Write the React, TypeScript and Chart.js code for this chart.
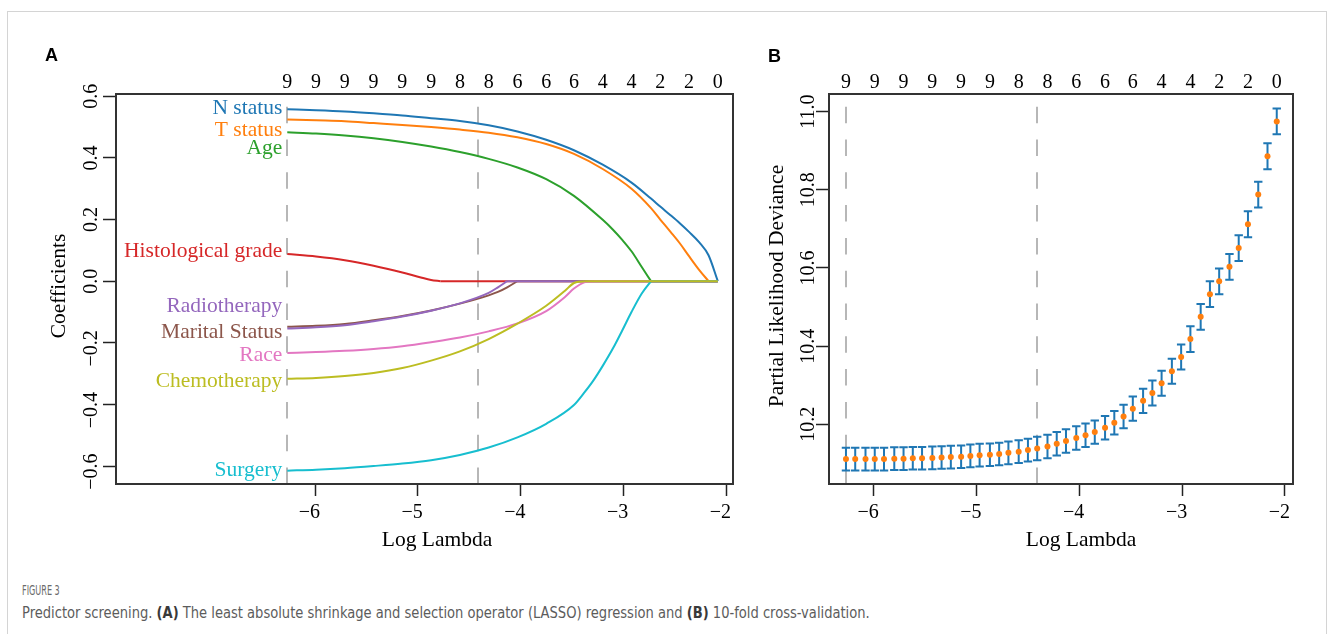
import React, { useEffect, useLayoutEffect, useRef } from 'react';
import { Chart, registerables } from 'chart.js';

Chart.register(...registerables);

const SERIF = '"Liberation Serif", "Times New Roman", serif';

// ---------------- data ----------------
const logLambda = [-6.27, -6.18, -6.08, -5.99, -5.9, -5.8, -5.71, -5.62, -5.53, -5.43, -5.34, -5.25, -5.15, -5.06, -4.97, -4.87, -4.78, -4.69, -4.59, -4.5, -4.41, -4.31, -4.22, -4.13, -4.03, -3.94, -3.85, -3.75, -3.66, -3.57, -3.48, -3.38, -3.29, -3.2, -3.1, -3.01, -2.92, -2.82, -2.73, -2.64, -2.54, -2.45, -2.36, -2.26, -2.17, -2.08];
const lambdaMinLog = -6.27;
const lambda1seLog = -4.41;

const countLambda = [-6.27, -5.99, -5.71, -5.43, -5.15, -4.87, -4.59, -4.31, -4.03, -3.75, -3.48, -3.2, -2.92, -2.64, -2.36, -2.08];
const nonzeroCount = [9, 9, 9, 9, 9, 9, 8, 8, 6, 6, 6, 4, 4, 2, 2, 0];

const xTickValues = [-6, -5, -4, -3, -2];
const coefTickValues = [-0.6, -0.4, -0.2, 0, 0.2, 0.4, 0.6];
const devTickValues = [10.2, 10.4, 10.6, 10.8, 11.0];

// Panel A coefficient paths
const nStatusX = [-6.27, -5.99, -5.71, -5.43, -5.15, -4.87, -4.59, -4.31, -4.03, -3.75, -3.48, -3.2, -2.92, -2.73, -2.64, -2.54, -2.45, -2.36, -2.26, -2.17, -2.08];
const nStatusY = [0.558, 0.555, 0.551, 0.545, 0.538, 0.529, 0.52, 0.506, 0.486, 0.459, 0.425, 0.378, 0.32, 0.268, 0.242, 0.214, 0.188, 0.16, 0.126, 0.084, 0];

const tStatusX = [-6.27, -5.99, -5.71, -5.43, -5.15, -4.87, -4.59, -4.31, -4.03, -3.75, -3.48, -3.2, -2.92, -2.73, -2.64, -2.54, -2.45, -2.36, -2.26, -2.17, -2.08];
const tStatusY = [0.525, 0.522, 0.519, 0.513, 0.507, 0.5, 0.492, 0.482, 0.467, 0.445, 0.413, 0.364, 0.3, 0.237, 0.2, 0.16, 0.123, 0.081, 0.036, 0, 0];

const ageX = [-6.27, -5.99, -5.71, -5.43, -5.15, -4.87, -4.59, -4.31, -4.03, -3.75, -3.48, -3.2, -3.1, -3.01, -2.92, -2.82, -2.73, -2.08];
const ageY = [0.483, 0.479, 0.473, 0.464, 0.452, 0.437, 0.419, 0.397, 0.369, 0.331, 0.277, 0.199, 0.167, 0.134, 0.097, 0.046, 0, 0];

const histX = [-6.27, -5.99, -5.71, -5.43, -5.15, -4.97, -4.87, -4.78, -2.08];
const histY = [0.088, 0.08, 0.068, 0.05, 0.028, 0.012, 0.004, 0, 0];

const radioX = [-6.27, -5.99, -5.71, -5.43, -5.15, -4.87, -4.59, -4.31, -4.22, -4.13, -2.08];
const radioY = [-0.154, -0.15, -0.143, -0.13, -0.115, -0.096, -0.072, -0.038, -0.02, 0, 0];

const maritalX = [-6.27, -5.99, -5.71, -5.43, -5.15, -4.87, -4.59, -4.31, -4.22, -4.13, -4.03, -2.08];
const maritalY = [-0.148, -0.145, -0.139, -0.127, -0.113, -0.095, -0.073, -0.046, -0.035, -0.02, 0, 0];

const raceX = [-6.27, -5.99, -5.71, -5.43, -5.15, -4.87, -4.59, -4.31, -4.03, -3.75, -3.57, -3.48, -3.38, -3.29, -2.08];
const raceY = [-0.233, -0.23, -0.226, -0.22, -0.211, -0.198, -0.183, -0.163, -0.137, -0.097, -0.052, -0.024, -0.004, 0, 0];

const chemoX = [-6.27, -5.99, -5.71, -5.43, -5.15, -4.87, -4.59, -4.31, -4.03, -3.75, -3.57, -3.48, -3.38, -2.08];
const chemoY = [-0.317, -0.314, -0.308, -0.298, -0.282, -0.258, -0.228, -0.188, -0.138, -0.08, -0.032, -0.006, 0, 0];

const surgeryX = [-6.27, -5.99, -5.71, -5.43, -5.15, -4.87, -4.59, -4.31, -4.03, -3.75, -3.48, -3.38, -3.29, -3.2, -3.1, -3.01, -2.92, -2.82, -2.73, -2.08];
const surgeryY = [-0.615, -0.612, -0.607, -0.6, -0.592, -0.581, -0.564, -0.54, -0.507, -0.463, -0.402, -0.362, -0.322, -0.275, -0.218, -0.16, -0.1, -0.04, 0, 0];

// label text anchor heights (coefficient units, baseline)
const varNames = ['N status', 'T status', 'Age', 'Histological grade', 'Radiotherapy', 'Marital Status', 'Race', 'Chemotherapy', 'Surgery'];
const varLabelY = [0.541, 0.472, 0.412, 0.079, -0.101, -0.186, -0.259, -0.345, -0.633];
const varColors = ['#1f77b4', '#ff7f0e', '#2ca02c', '#d62728', '#9467bd', '#8c564b', '#e377c2', '#bcbd22', '#17becf'];
const varDrawOrder = [8, 7, 6, 5, 3, 4, 2, 0, 1]; // lower = drawn on top

// Panel B cross-validation
const cvMean = [10.111, 10.111, 10.111, 10.111, 10.111, 10.112, 10.112, 10.113, 10.113, 10.114, 10.115, 10.116, 10.117, 10.119, 10.121, 10.122, 10.124, 10.127, 10.13, 10.134, 10.138, 10.143, 10.15, 10.157, 10.165, 10.172, 10.18, 10.191, 10.204, 10.22, 10.24, 10.26, 10.28, 10.305, 10.336, 10.372, 10.418, 10.475, 10.533, 10.566, 10.603, 10.651, 10.712, 10.788, 10.886, 10.975];
const cvSE = [0.029, 0.029, 0.029, 0.029, 0.029, 0.029, 0.029, 0.029, 0.029, 0.029, 0.029, 0.029, 0.029, 0.029, 0.029, 0.029, 0.029, 0.029, 0.029, 0.029, 0.03, 0.03, 0.03, 0.03, 0.03, 0.03, 0.03, 0.03, 0.03, 0.03, 0.031, 0.031, 0.032, 0.032, 0.032, 0.032, 0.033, 0.033, 0.033, 0.033, 0.033, 0.033, 0.033, 0.033, 0.033, 0.033];

// ---------------- helpers ----------------
const fmt = (v: number, d: number) => (v < -1e-9 ? '\u2212' : '') + Math.abs(v).toFixed(d);

// R-like label: the numeric part is centred on the tick, a minus sign hangs before it
function drawTickLabel(ctx: any, text: string) {
  const num = text.replace('\u2212', '');
  const w = ctx.measureText(num).width;
  ctx.textAlign = 'right';
  ctx.fillText(text, w / 2, 0);
}

const rStylePlugin = {
  id: 'rStyle',
  beforeDatasetsDraw(chart: any, _a: any, o: any) {
    const { ctx, chartArea: ca } = chart;
    const xs = chart.scales.x;
    const ys = chart.scales.y;
    ctx.save();
    ctx.strokeStyle = '#a0a0a0';
    ctx.lineWidth = 1.5;
    ctx.setLineDash([16.5, 16.3]);
    for (const v of o.vlines) {
      const px = Math.round(xs.getPixelForValue(v));
      ctx.beginPath();
      ctx.moveTo(px, ca.bottom);
      ctx.lineTo(px, ca.top);
      ctx.stroke();
    }
    ctx.setLineDash([]);
    if (o.errorBars) {
      ctx.strokeStyle = '#1f77b4';
      ctx.lineWidth = 2;
      for (let i = 0; i < logLambda.length; i++) {
        const px = xs.getPixelForValue(logLambda[i]);
        const yt = ys.getPixelForValue(cvMean[i] + cvSE[i]);
        const yb = ys.getPixelForValue(cvMean[i] - cvSE[i]);
        ctx.beginPath();
        ctx.moveTo(px, yt);
        ctx.lineTo(px, yb);
        ctx.moveTo(px - 4.2, yt);
        ctx.lineTo(px + 4.2, yt);
        ctx.moveTo(px - 4.2, yb);
        ctx.lineTo(px + 4.2, yb);
        ctx.stroke();
      }
    }
    ctx.restore();
  },
  afterDraw(chart: any, _a: any, o: any) {
    const { ctx, chartArea: ca } = chart;
    const xs = chart.scales.x;
    const ys = chart.scales.y;
    ctx.save();
    ctx.setLineDash([]);
    ctx.strokeStyle = '#333';
    ctx.lineWidth = 2;
    ctx.strokeRect(ca.left, ca.top, ca.right - ca.left, ca.bottom - ca.top);

    ctx.fillStyle = '#000';
    ctx.font = `20px ${SERIF}`;
    ctx.textBaseline = 'alphabetic';
    // y tick labels (rotated, R style)
    for (const v of o.yTicks) {
      const py = ys.getPixelForValue(v);
      ctx.save();
      ctx.translate(ca.left - o.yTickGap, py);
      ctx.rotate(-Math.PI / 2);
      drawTickLabel(ctx, fmt(v, 1));
      ctx.restore();
    }
    // x tick labels
    for (const v of xTickValues) {
      ctx.save();
      ctx.translate(xs.getPixelForValue(v), ca.bottom + 34.3);
      drawTickLabel(ctx, fmt(v, 0));
      ctx.restore();
    }
    // top axis: number of non-zero coefficients
    ctx.textAlign = 'center';
    for (let k = 0; k < countLambda.length; k++) {
      ctx.fillText(String(nonzeroCount[k]), xs.getPixelForValue(countLambda[k]), ca.top - 6);
    }

    ctx.font = `21.5px ${SERIF}`;
    ctx.save();
    ctx.translate(ca.left - o.yTitleGap, (ca.top + ca.bottom) / 2 - 3);
    ctx.rotate(-Math.PI / 2);
    ctx.fillText(o.yTitle, 0, 0);
    ctx.restore();
    ctx.fillText(o.xTitle, o.xTitleX, o.xTitleBaseline);

    if (o.varLabels) {
      ctx.textAlign = 'right';
      const ax = xs.getPixelForValue(lambdaMinLog) - 5;
      for (let k = 0; k < varNames.length; k++) {
        ctx.fillStyle = varColors[k];
        ctx.fillText(varNames[k], ax, ys.getPixelForValue(varLabelY[k]));
      }
    }
    ctx.restore();
  },
};

function axisX(min: number, max: number, height: number) {
  return {
    type: 'linear',
    min,
    max,
    afterBuildTicks: (s: any) => {
      s.ticks = xTickValues.map((v) => ({ value: v }));
    },
    afterFit: (s: any) => {
      s.height = height;
    },
    border: { display: false },
    grid: { display: true, drawOnChartArea: false, drawTicks: true, tickLength: 12, tickColor: '#222', tickWidth: 1.5 },
    ticks: { display: false },
  };
}

function axisY(min: number, max: number, width: number, ticks: number[]) {
  return {
    type: 'linear',
    min,
    max,
    afterBuildTicks: (s: any) => {
      s.ticks = ticks.map((v) => ({ value: v }));
    },
    afterFit: (s: any) => {
      s.width = width;
    },
    border: { display: false },
    grid: { display: true, drawOnChartArea: false, drawTicks: true, tickLength: 13, tickColor: '#222', tickWidth: 1.5 },
    ticks: { display: false },
  };
}

function makeConfigA() {
  const xsArr = [nStatusX, tStatusX, ageX, histX, radioX, maritalX, raceX, chemoX, surgeryX];
  const ysArr = [nStatusY, tStatusY, ageY, histY, radioY, maritalY, raceY, chemoY, surgeryY];
  const datasets: any[] = [];
  varNames.forEach((name, k) => {
    const xv = xsArr[k];
    const yv = ysArr[k];
    let z = yv.findIndex((v) => v === 0);
    if (z < 0) z = yv.length - 1;
    const common = {
      showLine: true,
      borderColor: varColors[k],
      backgroundColor: varColors[k],
      borderWidth: 2,
      pointRadius: 0,
      order: varDrawOrder[k],
    };
    datasets.push({
      ...common,
      label: name,
      data: xv.slice(0, z + 1).map((x, i) => ({ x, y: yv[i] })),
      cubicInterpolationMode: 'monotone',
    });
    if (z < xv.length - 1) {
      datasets.push({
        ...common,
        label: name + ' (dropped)',
        data: xv.slice(z).map((x, i) => ({ x, y: yv[z + i] })),
        tension: 0,
      });
    }
  });
  return {
    type: 'scatter',
    data: { datasets },
    options: {
      animation: false,
      responsive: false,
      devicePixelRatio: 1,
      events: [],
      layout: { padding: { top: 94, right: 27, left: 0, bottom: 0 } },
      plugins: {
        legend: { display: false },
        tooltip: { enabled: false },
        rStyle: {
          vlines: [lambdaMinLog, lambda1seLog],
          yTicks: coefTickValues,
          yTickGap: 19.3,
          yTitle: 'Coefficients',
          yTitleGap: 51,
          xTitle: 'Log Lambda',
          xTitleX: 437,
          xTitleBaseline: 546,
          varLabels: true,
        },
      },
      scales: {
        x: axisX(-7.937, -1.932, 76),
        y: axisY(-0.6584, 0.6075, 116, coefTickValues),
      },
    },
    plugins: [rStylePlugin],
  };
}

function makeConfigB() {
  return {
    type: 'scatter',
    data: {
      datasets: [
        {
          label: 'Partial Likelihood Deviance',
          data: logLambda.map((x, i) => ({ x, y: cvMean[i] })),
          showLine: false,
          pointRadius: 3,
          pointBackgroundColor: '#ff7f0e',
          pointBorderWidth: 0,
          pointBorderColor: '#ff7f0e',
        },
      ],
    },
    options: {
      animation: false,
      responsive: false,
      devicePixelRatio: 1,
      events: [],
      layout: { padding: { top: 94, right: 38, left: 0, bottom: 0 } },
      plugins: {
        legend: { display: false },
        tooltip: { enabled: false },
        rStyle: {
          vlines: [lambdaMinLog, lambda1seLog],
          errorBars: true,
          yTicks: devTickValues,
          yTickGap: 14.7,
          yTitle: 'Partial Likelihood Deviance',
          yTitleGap: 45.7,
          xTitle: 'Log Lambda',
          xTitleX: 321,
          xTitleBaseline: 546,
          varLabels: false,
        },
      },
      scales: {
        x: axisX(-6.435, -1.922, 76),
        y: axisY(10.0472, 11.0453, 69, devTickValues),
      },
    },
    plugins: [rStylePlugin],
  };
}

function ChartCanvas({ left, width, height, makeConfig }: any) {
  const ref = useRef<HTMLCanvasElement>(null);
  useEffect(() => {
    const chart = new Chart(ref.current as HTMLCanvasElement, makeConfig());
    return () => chart.destroy();
  }, []);
  return (
    <canvas
      ref={ref}
      width={width}
      height={height}
      style={{ position: 'absolute', left, top: 0, width, height, display: 'block' }}
    />
  );
}

function FitText({ left, top, width, style, children }: any) {
  const ref = useRef<HTMLSpanElement>(null);
  useLayoutEffect(() => {
    const el = ref.current;
    if (!el) return;
    const w = el.offsetWidth;
    if (w > 0) el.style.transform = `scaleX(${width / w})`;
  }, []);
  return (
    <span
      ref={ref}
      style={{ position: 'absolute', left, top, whiteSpace: 'nowrap', transformOrigin: '0 0', ...style }}
    >
      {children}
    </span>
  );
}

const CAPTION_FONT = '"Liberation Sans Narrow", "DejaVu Sans Condensed", "Roboto", sans-serif';

export default function App() {
  return (
    <div
      style={{
        position: 'fixed',
        left: 0,
        top: 0,
        width: 1331,
        height: 634,
        background: '#fff',
        overflow: 'hidden',
      }}
    >
      <div
        style={{
          position: 'absolute',
          left: 7,
          top: 11,
          width: 1320,
          height: 700,
          border: '1px solid #d4d4d4',
          boxSizing: 'border-box',
        }}
      />
      <ChartCanvas left={0} width={760} height={560} makeConfig={makeConfigA} />
      <ChartCanvas left={760} width={571} height={560} makeConfig={makeConfigB} />
      <div
        style={{
          position: 'absolute',
          left: 45,
          top: 46,
          fontFamily: '"Liberation Sans", Arial, sans-serif',
          fontWeight: 700,
          fontSize: 18,
          lineHeight: '18px',
          color: '#000',
        }}
      >
        A
      </div>
      <div
        style={{
          position: 'absolute',
          left: 768,
          top: 47,
          fontFamily: '"Liberation Sans", Arial, sans-serif',
          fontWeight: 700,
          fontSize: 18,
          lineHeight: '18px',
          color: '#000',
        }}
      >
        B
      </div>
      <FitText
        left={22}
        top={583}
        width={38}
        style={{ fontFamily: CAPTION_FONT, fontSize: 14, lineHeight: '14px', color: '#6b6b6b' }}
      >
        FIGURE 3
      </FitText>
      <FitText
        left={22}
        top={605}
        width={848}
        style={{ fontFamily: CAPTION_FONT, fontSize: 16, lineHeight: '16px', color: '#5c5c5c' }}
      >
        Predictor screening. <b style={{ color: '#3a3a3a' }}>(A)</b> The least absolute shrinkage and selection operator
        (LASSO) regression and <b style={{ color: '#3a3a3a' }}>(B)</b> 10-fold cross-validation.
      </FitText>
    </div>
  );
}
